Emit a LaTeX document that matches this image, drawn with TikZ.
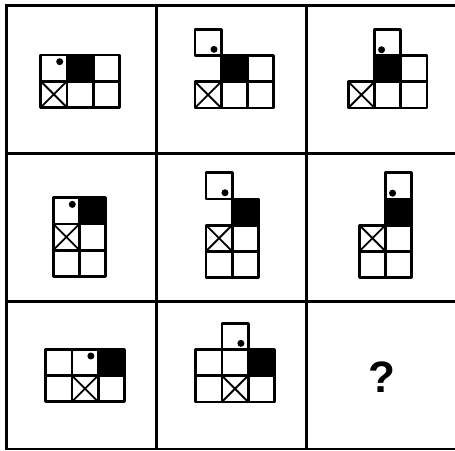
\documentclass[tikz,border=0pt]{standalone}
\usepackage{fontspec}
\newfontfamily\qfont{Liberation Sans}
\tikzset{
  gridline/.style={line width=3pt},
  sq/.style={line width=2.8pt, line join=round},
  blk/.style={sq, fill=black},
  xline/.style={line width=1.9pt},
  dotm/.style={fill=black},
  cellgrid/.style={x=26.2pt, y=-26.2pt}
}
\newcommand\wq[2]{\draw[sq] (#1,#2) rectangle ++(1,1);}
\newcommand\bq[2]{\draw[blk] (#1,#2) rectangle ++(1,1);}
\newcommand\xq[2]{\draw[xline] (#1,#2) -- ++(1,1) (#1+1,#2) -- ++(-1,1); \draw[sq] (#1,#2) rectangle ++(1,1);}
\newcommand\dtTR[2]{\fill[dotm] (#1+0.725,#2+0.255) circle[radius=3.5pt];}
\newcommand\dtBR[2]{\fill[dotm] (#1+0.725,#2+0.765) circle[radius=3.5pt];}
\newcommand\dtBL[2]{\fill[dotm] (#1+0.27,#2+0.78) circle[radius=3.5pt];}
\begin{document}
\begin{tikzpicture}[x=1pt, y=-1pt]
\useasboundingbox (0,0) rectangle (455,450);
% grid
\coordinate (tl) at (6,5);
\draw[gridline] (6,5) -- (455,5);
\draw[gridline] (6,153.5) -- (455,153.5);
\draw[gridline] (6,301.5) -- (455,301.5);
\draw[line width=1.6pt] (6,449) -- (455,449);
\draw[gridline] (6,3.5) -- (6,449.5);
\draw[gridline] (156,3.5) -- (156,449.5);
\draw[gridline] (306.5,3.5) -- (306.5,449.5);
% cell 1
\begin{scope}[shift={(40.7pt,-55pt)}, cellgrid]
\wq{0}{0}\dtTR{0}{0}\bq{1}{0}\wq{2}{0}
\xq{0}{1}\wq{1}{1}\wq{2}{1}
\end{scope}
% cell 2
\begin{scope}[shift={(195pt,-29.3pt)}, cellgrid]
\wq{0}{0}\dtBR{0}{0}
\bq{1}{1}\wq{2}{1}
\xq{0}{2}\wq{1}{2}\wq{2}{2}
\end{scope}
% cell 3
\begin{scope}[shift={(348.3pt,-29.3pt)}, cellgrid]
\wq{1}{0}\dtBL{1}{0}
\bq{1}{1}\wq{2}{1}
\xq{0}{2}\wq{1}{2}\wq{2}{2}
\end{scope}
% cell 4
\begin{scope}[shift={(53.3pt,-197.7pt)}, cellgrid]
\wq{0}{0}\dtTR{0}{0}\bq{1}{0}
\xq{0}{1}\wq{1}{1}
\wq{0}{2}\wq{1}{2}
\end{scope}
% cell 5
\begin{scope}[shift={(206pt,-172.7pt)}, cellgrid]
\wq{0}{0}\dtBR{0}{0}
\bq{1}{1}
\xq{0}{2}\wq{1}{2}
\wq{0}{3}\wq{1}{3}
\end{scope}
% cell 6
\begin{scope}[shift={(359.3pt,-172.7pt)}, cellgrid]
\wq{1}{0}\dtBL{1}{0}
\bq{1}{1}
\xq{0}{2}\wq{1}{2}
\wq{0}{3}\wq{1}{3}
\end{scope}
% cell 7
\begin{scope}[shift={(45.7pt,-349.3pt)}, cellgrid]
\wq{0}{0}\wq{1}{0}\dtTR{1}{0}\bq{2}{0}
\wq{0}{1}\xq{1}{1}\wq{2}{1}
\end{scope}
% cell 8
\begin{scope}[shift={(195.7pt,-323.3pt)}, cellgrid]
\wq{1}{0}\dtBR{1}{0}
\wq{0}{1}\wq{1}{1}\bq{2}{1}
\wq{0}{2}\xq{1}{2}\wq{2}{2}
\end{scope}
% cell 9
\node[inner sep=0pt, font=\qfont\bfseries\fontsize{44}{44}\selectfont] (q) at (381.7,377) {?};
\end{tikzpicture}
\end{document}
